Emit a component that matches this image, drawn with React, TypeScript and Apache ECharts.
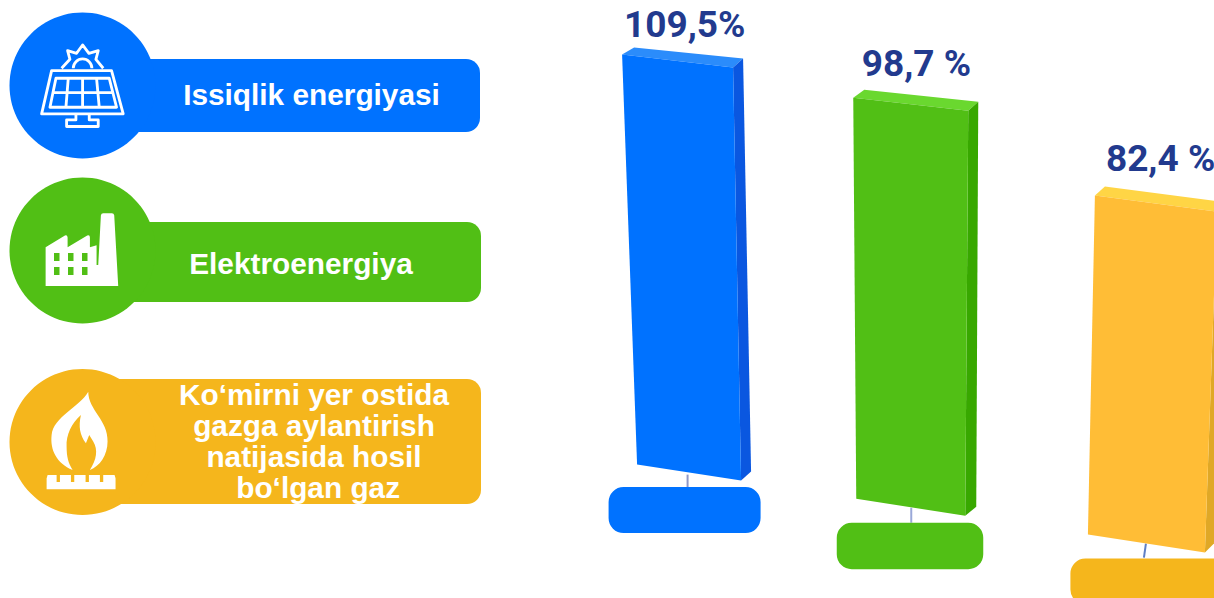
import React, { useEffect, useRef } from "react";
import * as echarts from "echarts";

const categories = [
  "Issiqlik energiyasi",
  "Elektroenergiya",
  "Ko‘mirni yer ostida\ngazga aylantirish\nnatijasida hosil\n bo‘lgan gaz",
];
const values = [109.5, 98.7, 82.4];
const valueLabels = ["109,5%", "98,7 %", "82,4 %"];
const mainColors = ["#0072ff", "#51bf15", "#ffbd36"];
const topColors = ["#2b8cfb", "#6ad82f", "#ffd545"];
const sideColors = ["#0a57e0", "#38a800", "#e0a826"];
const pillColors = ["#0072ff", "#51bf15", "#f5b61c"];
const stemColors = ["#8f98c8", "#9aa8d8", "#5f7fc4"];
const fontFamily = "Roboto, 'Liberation Sans', sans-serif";

// Tilted 3D bar outlines, relative to the anchor given by the scales (category centre, value height)
const shapes = [
  { dx: 9, front: [[-65.5, 0], [45.5, 13], [53.5, 426], [-50.5, 410]], top: [[-65.5, 0], [-53.5, -7], [55.5, 4], [45.5, 13]], side: [[45.5, 13], [55.5, 4], [63.5, 417], [53.5, 426]], pill: [-79, 432.5, 152, 46], stem: [[0, 420], [0, 433]], label: [-63.5, -30] },
  { dx: 27, front: [[-66.5, -13], [48.5, 0], [45.5, 405], [-63.5, 388]], top: [[-66.5, -13], [-55.5, -21], [58.5, -9], [48.5, 0]], side: [[48.5, 0], [58.5, -9], [56.5, 396], [45.5, 405]], pill: [-83, 412, 146.5, 46.5], stem: [[-8.5, 397], [-8.5, 412]], label: [-58, -47] },
  { dx: 44.5, front: [[-56.5, 0], [65.5, 16], [53.5, 357], [-63.5, 339]], top: [[-56.5, 0], [-46.5, -9], [75.5, 7], [65.5, 16]], side: [[65.5, 16], [75.5, 7], [62.5, 348], [53.5, 357]], pill: [-81, 363, 162, 46], stem: [[-5.5, 348], [-7.5, 362]], label: [-45.5, -37] },
];

const solarPath =
  "M155 212 H335 L370 342 H125 Z M168 235 H328 L350 322 H150 Z M159 278 H339 M205 235 L198 322 M248 235 V322 M290 235 L298 322 " +
  "M228 345 V360 H200 V380 H295 V360 H268 V345 " +
  "M220 205 A28 28 0 0 1 276 205 M185 205 L210 178 L203 152 L230 160 L248 135 L267 160 L295 152 L288 178 L310 205";
const factoryPath =
  "M137 348 V232 L195 197 Q202 194 203 203 V232 L262 197 Q270 194 270 203 V232 L290 226 V285 H295 L303 136 Q304 130 310 130 H336 Q342 130 343 136 L355 348 Z";
const flamePath =
  "M218 330 C170 310 150 270 155 225 C160 170 240 140 265 95 C265 150 325 180 323 245 C323 285 300 320 270 330 C290 300 295 270 280 245 L268 225 L258 250 C240 225 235 200 243 165 C215 190 198 225 200 260 C200 290 205 310 218 330 Z " +
  "M140 388 V355 L143 345 H170 V366 H180 V345 H213 V366 H223 V345 H257 V366 H267 V345 H300 V366 H310 V345 H344 L347 355 V388 Z";

echarts.graphic.registerShape("solarIcon", echarts.graphic.extendPath(solarPath, {}));
echarts.graphic.registerShape("factoryIcon", echarts.graphic.extendPath(factoryPath, {}));
echarts.graphic.registerShape("flameIcon", echarts.graphic.extendPath(flamePath, {}));

const legendBoxes = [
  { top: 59, height: 73, cy: 85.5, textX: 311.5, textY: 94 },
  { top: 222, height: 80, cy: 250.5, textX: 301, textY: 263 },
  { top: 379, height: 125, cy: 442, textX: 314, textY: 440.5 },
];

const windowRects: any[] = [];
[253, 267].forEach((wy) =>
  [54, 68, 82].forEach((wx) =>
    windowRects.push({ type: "rect", shape: { x: wx, y: wy, width: 5.5, height: 8 }, style: { fill: pillColors[1] } })
  )
);

function renderBar(params: any, api: any) {
  const i = params.dataIndex;
  const s = shapes[i];
  const [ax, cy] = api.coord([api.value(0), api.value(1)]);
  const cx = ax + s.dx;
  const pts = (list: number[][]) => list.map(([dx, dy]) => [cx + dx, cy + dy]);
  const poly = (list: number[][], fill: string) => ({ type: "polygon", shape: { points: pts(list) }, style: { fill } });
  const [sx1, sy1] = pts([s.stem[0]])[0];
  const [sx2, sy2] = pts([s.stem[1]])[0];
  return {
    type: "group",
    children: [
      { type: "line", shape: { x1: sx1, y1: sy1, x2: sx2, y2: sy2 }, style: { stroke: stemColors[i], lineWidth: 2 } },
      poly(s.top, topColors[i]),
      poly(s.side, sideColors[i]),
      poly(s.front, mainColors[i]),
      {
        type: "rect",
        shape: { x: cx + s.pill[0], y: cy + s.pill[1], width: s.pill[2], height: s.pill[3], r: 15 },
        style: { fill: pillColors[i] },
      },
      {
        type: "text",
        x: cx + s.label[0],
        y: cy + s.label[1],
        style: {
          text: valueLabels[i],
          fill: "#223a8e",
          font: `700 37px ${fontFamily}`,
          textAlign: "left",
          textVerticalAlign: "middle",
        },
      },
    ],
  };
}

export default function App() {
  const ref = useRef<HTMLDivElement>(null);
  useEffect(() => {
    const chart = echarts.init(ref.current!, undefined, { renderer: "svg" });
    const legendGraphics: any[] = [];
    categories.forEach((name, i) => {
      const box = legendBoxes[i];
      legendGraphics.push(
        { type: "rect", shape: { x: 90, y: box.top, width: i === 0 ? 390 : 391, height: box.height, r: 14 }, style: { fill: pillColors[i] } },
        { type: "circle", shape: { cx: 82.5, cy: box.cy, r: 73 }, style: { fill: pillColors[i] } },
        {
          type: "text",
          x: box.textX,
          y: box.textY,
          style: {
            text: name,
            fill: "#ffffff",
            font: "700 29.8px 'Liberation Sans', Arial, sans-serif",
            lineHeight: 31,
            textAlign: "center",
            textVerticalAlign: "middle",
          },
        }
      );
    });
    chart.setOption({
      animation: false,
      backgroundColor: "#ffffff",
      grid: { left: 571.5, right: 0, top: 0, bottom: 0, containLabel: false },
      xAxis: { type: "category", data: categories, show: false },
      yAxis: { type: "value", min: 5, max: 120, show: false },
      series: [
        {
          type: "custom",
          renderItem: renderBar,
          data: values.map((v, i) => [i, v]),
          encode: { x: 0, y: 1 },
          clip: false,
        },
      ],
      graphic: {
        elements: [
          ...legendGraphics,
          { type: "solarIcon", x: 0, y: 0, scaleX: 1 / 3, scaleY: 1 / 3, style: { fill: "none", stroke: "#ffffff", lineWidth: 8.5, lineJoin: "round" } },
          { type: "factoryIcon", x: 0, y: 170, scaleX: 1 / 3, scaleY: 1 / 3, style: { fill: "#ffffff" } },
          ...windowRects,
          { type: "flameIcon", x: 0, y: 360, scaleX: 1 / 3, scaleY: 1 / 3, style: { fill: "#ffffff" } },
        ],
      },
    });
    return () => chart.dispose();
  }, []);
  return <div ref={ref} style={{ position: "fixed", left: 0, top: 0, width: 1214, height: 598, background: "#fff" }} />;
}
